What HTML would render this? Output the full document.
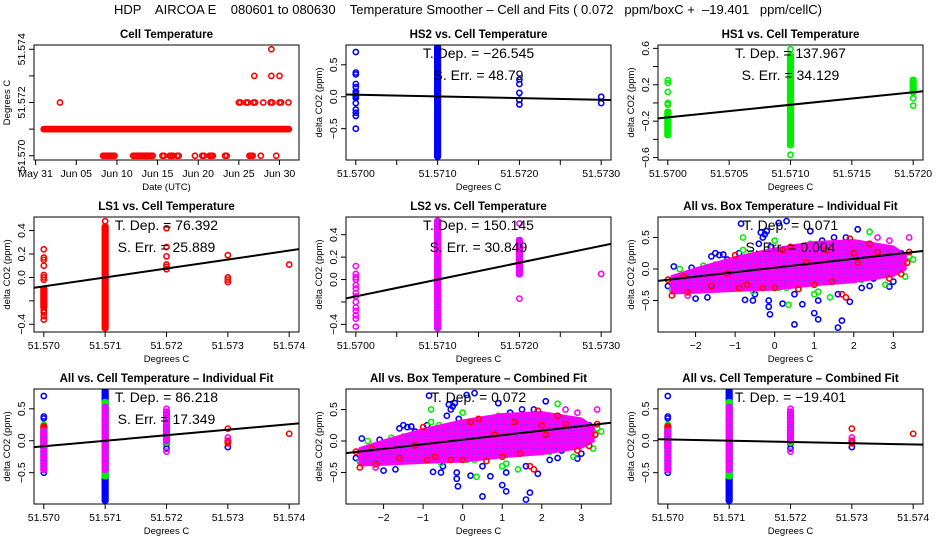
<!DOCTYPE html>
<html><head><meta charset="utf-8"><style>
html,body{margin:0;padding:0;background:#fff;}
svg{display:block;font-family:"Liberation Sans",sans-serif;}
</style></head><body>
<svg id="chart" width="936" height="540" viewBox="0 0 936 540" xmlns="http://www.w3.org/2000/svg">
<defs>
<pattern id="magpat" width="3" height="3" patternUnits="userSpaceOnUse">
<rect width="3" height="3" fill="#ff00ff"/><rect x="1" y="1" width="1" height="1" fill="#5040ff"/>
</pattern>
</defs>
<text x="468" y="14" font-size="13" text-anchor="middle" style="white-space:pre" xml:space="preserve">HDP    AIRCOA E    080601 to 080630    Temperature Smoother – Cell and Fits ( 0.072   ppm/boxC +  –19.401   ppm/cellC)</text>
</svg>
<script>
// ---------- data ----------
const p1Dates = ["May 31","Jun 05","Jun 10","Jun 15","Jun 20","Jun 25","Jun 30"];
const p1DateDays = [0,5,10,15,20,25,30];
const p1Band571 = [1.0, 31.2];
const p1Days570 = [8.3,8.5,8.7,8.9,9.1,9.3,9.5,9.7,12,12.2,12.4,12.6,12.8,13,13.2,13.4,13.6,13.8,14,14.2,14.4,15.6,15.8,16.5,16.7,16.9,17.4,17.6,19.6,20.5,20.7,21.4,21.6,21.8,23.3,23.5,26.3,26.5,26.7,27.7,29.6];
const p1Days572 = [3,25,25.2,25.9,26.1,26.8,27,28,28.9,29.1,30,30.2,31.1];
const p1Days573 = [26.9,29,30];
const p1Days574 = [29];

const hs2StripX = [51.571], hs2StripLo = [-0.93], hs2StripHi = [0.77];
const hs2PtsX = [51.570,51.570,51.570,51.570,51.570,51.570,51.570,51.570,51.570,51.570,51.570,51.570,51.570,51.570,51.570,51.572,51.572,51.572,51.572,51.572,51.573,51.573];
const hs2PtsY = [0.7,0.38,0.35,0.2,0.15,0.08,0.05,0.02,0,-0.02,-0.1,-0.2,-0.25,-0.3,-0.5,0.27,0.2,0.06,-0.05,-0.12,0,-0.1];

const hs1StripX = [51.570,51.571,51.572], hs1StripLo = [-0.35,-0.46,0.12], hs1StripHi = [-0.1,0.52,0.25];
const hs1PtsX = [51.570,51.570,51.570,51.570,51.570,51.571,51.571,51.572,51.572];
const hs1PtsY = [0.25,0.22,0.12,0.0,-0.02,0.59,-0.57,0.05,-0.03];

const ls1StripX = [51.570,51.571], ls1StripLo = [-0.25,-0.43], ls1StripHi = [-0.1,0.43];
const ls1PtsX = [51.570,51.570,51.570,51.570,51.570,51.570,51.570,51.570,51.570,51.570,51.570,51.571,51.572,51.572,51.572,51.572,51.572,51.572,51.573,51.573,51.573,51.573,51.574];
const ls1PtsY = [0.24,0.17,0.15,0.1,0.02,0,-0.02,-0.28,-0.3,-0.33,-0.36,0.48,0.42,0.26,0.18,0.11,0.09,0.07,0.19,0.0,-0.02,-0.04,0.11];

const ls2StripX = [51.571,51.572], ls2StripLo = [-0.43,0.05], ls2StripHi = [0.52,0.35];
const ls2PtsX = [51.570,51.570,51.570,51.570,51.570,51.570,51.570,51.570,51.570,51.570,51.570,51.570,51.570,51.570,51.572,51.572,51.573];
const ls2PtsY = [0.12,0.05,0.02,0,-0.05,-0.08,-0.12,-0.15,-0.2,-0.25,-0.28,-0.32,-0.35,-0.42,0.5,-0.17,0.05];

const boxBlueX = [-2.7,-2.55,-2.0,-1.7,-2.1,-1.6,-1.4,-1.3,-1.2,-0.85,-0.75,-0.55,-0.5,-0.35,-0.3,-0.25,-0.2,-0.15,-0.15,-0.12,-0.1,0.1,0.2,0.3,0.5,0.5,0.7,0.9,1.0,1.1,1.1,1.3,1.5,1.6,1.7,1.6,1.9,1.8,2.1,2.2,2.4,2.6,2.9,3.0,3.2,2.5,-0.9,-0.4,0.6,1.2,-1.5];
const boxBlueY = [-0.27,0.04,-0.47,-0.45,0.02,0.2,0.22,0.23,0.15,0.72,-0.49,-0.5,-0.4,0.58,0.5,0.55,0.6,-0.5,-0.6,-0.72,0.35,0.73,-0.55,0.76,-0.88,-0.4,-0.56,0.6,-0.7,-0.8,-0.5,0.3,0.5,-0.93,-0.82,-0.4,-0.52,0.5,0.63,-0.3,-0.27,-0.05,-0.28,-0.2,0.25,-0.15,0.25,0.4,0.35,0.45,0.25];
const boxGreenX = [-2.6,-2.5,-2.4,-2.2,-1.8,-1.5,-0.8,-0.8,-0.6,-0.55,0.0,0.1,0.3,0.35,0.9,1.0,1.1,1.4,1.5,2.4,2.8,3.3,3.4,3.5,2.2,1.8,-0.3];
const boxGreenY = [-0.33,-0.35,0.0,-0.23,0.05,0.07,0.3,0.5,0.25,-0.35,0.45,-0.3,-0.3,-0.57,0.4,-0.4,-0.36,-0.45,0.3,0.59,-0.25,-0.12,0.2,0.15,-0.17,0.2,-0.3];
const boxRedX = [-2.7,-2.6,-2.3,-2.2,-1.6,-1.2,-1.0,-0.9,-0.7,-0.3,0.0,0.2,0.4,0.6,1.3,1.45,1.7,1.8,1.9,2.1,2.4,2.6,2.9,3.2,3.35,3.4,2.0,0.8,1.0];
const boxRedY = [-0.17,-0.42,-0.12,-0.37,-0.27,-0.07,0.22,-0.3,-0.25,-0.3,-0.3,0.3,0.35,-0.32,0.3,-0.2,-0.4,-0.45,0.48,0.1,0.4,0.27,-0.15,-0.08,0.1,0.27,0.25,0.1,-0.25];
const boxMagX = [2.6,2.9,3.4,-2.2,1.9];
const boxMagY = [0.5,0.45,0.5,-0.42,0.42];
const boxBandX = [-2.6,-2,-1,0,1,2,3,3.3];
const boxBandLo = [-0.38,-0.37,-0.34,-0.32,-0.25,-0.2,-0.1,0.0];
const boxBandHi = [-0.12,0.0,0.18,0.32,0.42,0.45,0.35,0.22];

const fitSlopes = [-26.545,137.967,76.392,150.145,0.071,86.218,0.072,-19.401];
const fitAtRef = [0.005,-0.02,0.0,0.0,0.02,0.0,0.02,0.0];

// ---------- drawing ----------
const svg = document.getElementById('chart');
const NS = 'http://www.w3.org/2000/svg';
const colX = [34,346,658], rowY = [45,217,389], W = 265, H = 115;
function el(tag, attrs, parent){const e=document.createElementNS(NS,tag);for(const k in attrs)e.setAttribute(k,attrs[k]);(parent||svg).appendChild(e);return e;}
function fmt(v,d){return (v<0?'−':'')+Math.abs(v).toFixed(d);}

function makePanel(name,col,row,xd,yd,title,xt,xl,yt,yl,xtitle){
  const g=el('g',{});
  
  
  const x0=colX[col], y0=rowY[row];
  const sx=v=>x0+(v-xd[0])/(xd[1]-xd[0])*W;
  const sy=v=>y0+H-(v-yd[0])/(yd[1]-yd[0])*H;
  const clip=el('clipPath',{id:'clip-'+name},g);
  el('rect',{x:x0,y:y0,width:W,height:H},clip);
  const plot=el('g',{'clip-path':'url(#clip-'+name+')'},g);
  const t=el('text',{x:x0+W/2,y:y0-7,'font-size':11.5,'font-weight':'bold','text-anchor':'middle'},g);
  t.textContent=title;
  
  
  el('rect',{x:x0,y:y0,width:W,height:H,fill:'none',stroke:'#000','stroke-width':1},g);
  const xa=el('g',{},g);
  
  
  xt.forEach((v,i)=>{const X=sx(v);el('line',{x1:X,x2:X,y1:y0+H,y2:y0+H+5,stroke:'#000'},xa);
    if(xl[i]){const tx=el('text',{x:X,y:y0+H+17,'font-size':10.5,'text-anchor':'middle'},xa);tx.textContent=xl[i];
    
    }});
  el('line',{x1:sx(xt[0]),x2:sx(xt[xt.length-1]),y1:y0+H,y2:y0+H,stroke:'#000'},xa);
  const ya=el('g',{},g);
  
  
  yt.forEach((v,i)=>{const Y=sy(v);el('line',{x1:x0-5,x2:x0,y1:Y,y2:Y,stroke:'#000'},ya);
    if(yl[i]){const ty=el('text',{x:x0-9,y:Y,'font-size':10.5,'text-anchor':'middle',transform:'rotate(-90 '+(x0-9)+' '+Y+')'},ya);ty.textContent=yl[i];
    
    }});
  const xtl=el('text',{x:x0+W/2,y:y0+H+30,'font-size':9.5,'text-anchor':'middle'},g);xtl.textContent=xtitle;
  
  
  const yx=x0-24, yy=y0+H/2;
  const ytl=el('text',{x:yx,y:yy,'font-size':9.5,'text-anchor':'middle',transform:'rotate(-90 '+yx+' '+yy+')'},g);
  ytl.textContent=(name==='cell-temperature-panel')?'Degrees C':'delta CO2 (ppm)';
  
  
  return {g,plot,sx,sy,x0,y0};
}
function pt(p,X,Y,c){const e=el('circle',{cx:p.sx(X),cy:p.sy(Y),r:2.6,fill:'none',stroke:c,'stroke-width':1.6},p.plot);
  
  }
function strip(p,X,lo,hi,c){const x=p.sx(X),y1=p.sy(hi),y2=p.sy(lo);
  const e=el('rect',{x:x-3.6,y:y1-3.6,width:7.2,height:y2-y1+7.2,rx:3,fill:c},p.plot);
  
  }
function fit(p,k,ref,xd){const f=v=>fitAtRef[k]+fitSlopes[k]*(v-ref);
  const e=el('line',{x1:p.sx(xd[0]),y1:p.sy(f(xd[0])),x2:p.sx(xd[1]),y2:p.sy(f(xd[1])),stroke:'#000','stroke-width':2},p.plot);
  
  }
function note(p,lines){lines.forEach((s,i)=>{const t=el('text',{x:p.x0+W/2,y:p.y0+13+i*22,'font-size':14,'text-anchor':'middle'},p.g);t.textContent=s;
  
  });}

{const xd=[-0.2,32.4],yd=[51.56984,51.57416];
 const p=makePanel('cell-temperature-panel',0,0,xd,yd,'Cell Temperature',p1DateDays,p1Dates,[51.570,51.571,51.572,51.573,51.574],['51.570','','51.572','','51.574'],'Date (UTC)');
 for(let d=p1Band571[0];d<=p1Band571[1];d+=0.15)pt(p,d,51.571,'#ff0000');
 p1Days570.forEach(d=>pt(p,d,51.570,'#ff0000'));
 p1Days572.forEach(d=>pt(p,d,51.572,'#ff0000'));
 p1Days573.forEach(d=>pt(p,d,51.573,'#ff0000'));
 p1Days574.forEach(d=>pt(p,d,51.574,'#ff0000'));}

const xt3=[51.570,51.5705,51.571,51.5715,51.572,51.5725,51.573];
const xl3=['51.5700','','51.5710','','51.5720','','51.5730'];
const xt4=[51.570,51.571,51.572,51.573,51.574];
const xl4=['51.570','51.571','51.572','51.573','51.574'];
const ytA=[-0.5,0,0.5], ylA=['−0.5','0.0','0.5'];

{const xd=[51.56988,51.57312],yd=[-0.99,0.81];
 const p=makePanel('hs2-panel',1,0,xd,yd,'HS2 vs. Cell Temperature',xt3,xl3,ytA,ylA,'Degrees C');
 hs2StripX.forEach((x,i)=>strip(p,x,hs2StripLo[i],hs2StripHi[i],'#0000ff'));
 hs2PtsX.forEach((x,i)=>pt(p,x,hs2PtsY[i],'#0000ff'));
 fit(p,0,51.571,xd); note(p,['T. Dep. =  '+fmt(fitSlopes[0],3),'S. Err. =  48.79']);}

{const xd=[51.56992,51.57208],yd=[-0.627,0.637];
 const p=makePanel('hs1-panel',2,0,xd,yd,'HS1 vs. Cell Temperature',[51.570,51.5705,51.571,51.5715,51.572],['51.5700','51.5705','51.5710','51.5715','51.5720'],[-0.6,-0.4,-0.2,0,0.2,0.4,0.6],['−0.6','','−0.2','','0.2','','0.6'],'Degrees C');
 hs1StripX.forEach((x,i)=>strip(p,x,hs1StripLo[i],hs1StripHi[i],'#00ee00'));
 hs1PtsX.forEach((x,i)=>pt(p,x,hs1PtsY[i],'#00ee00'));
 fit(p,1,51.571,xd); note(p,['T. Dep. =  '+fmt(fitSlopes[1],3),'S. Err. =  34.129']);}

{const xd=[51.56984,51.57416],yd=[-0.466,0.516];
 const p=makePanel('ls1-panel',0,1,xd,yd,'LS1 vs. Cell Temperature',xt4,xl4,[-0.4,-0.2,0,0.2,0.4],['−0.4','','0.0','0.2','0.4'],'Degrees C');
 ls1StripX.forEach((x,i)=>strip(p,x,ls1StripLo[i],ls1StripHi[i],'#ff0000'));
 ls1PtsX.forEach((x,i)=>pt(p,x,ls1PtsY[i],'#ff0000'));
 fit(p,2,51.571,xd); note(p,['T. Dep. =  '+fmt(fitSlopes[2],3),'S. Err. =  25.889']);}

{const xd=[51.56988,51.57312],yd=[-0.468,0.558];
 const p=makePanel('ls2-panel',1,1,xd,yd,'LS2 vs. Cell Temperature',xt3,xl3,[-0.4,-0.2,0,0.2,0.4],['−0.4','','0.0','0.2','0.4'],'Degrees C');
 ls2StripX.forEach((x,i)=>strip(p,x,ls2StripLo[i],ls2StripHi[i],'url(#magpat)'));
 ls2PtsX.forEach((x,i)=>pt(p,x,ls2PtsY[i],'#ff00ff'));
 fit(p,3,51.571,xd); note(p,['T. Dep. =  '+fmt(fitSlopes[3],3),'S. Err. =  30.849']);}

function boxScatter(p){
 boxBlueX.forEach((x,i)=>pt(p,x,boxBlueY[i],'#0000ff'));
 boxGreenX.forEach((x,i)=>pt(p,x,boxGreenY[i],'#00ee00'));
 const pts=boxBandX.map((x,i)=>p.sx(x)+','+p.sy(boxBandHi[i])).concat(boxBandX.map((x,i)=>p.sx(x)+','+p.sy(boxBandLo[i])).reverse());
 const band=el('polygon',{points:pts.join(' '),fill:'url(#magpat)',stroke:'#ff00ff','stroke-width':3,'stroke-linejoin':'round'},p.plot);
 
 
 boxRedX.forEach((x,i)=>pt(p,x,boxRedY[i],'#ff0000'));
 boxMagX.forEach((x,i)=>pt(p,x,boxMagY[i],'#ff00ff'));
}
function cellAll(p){
 strip(p,51.571,-0.93,0.77,'#0000ff');
 hs2PtsX.forEach((x,i)=>pt(p,x,hs2PtsY[i],'#0000ff'));
 strip(p,51.571,-0.55,0.6,'#00ee00');
 hs1PtsX.forEach((x,i)=>{if(x!==51.571)pt(p,x,hs1PtsY[i],'#00ee00');});
 strip(p,51.570,-0.1,0.22,'#ff0000');
 ls1PtsX.forEach((x,i)=>{if(x>51.5715)pt(p,x,ls1PtsY[i],'#ff0000');});
 strip(p,51.570,-0.45,0.15,'url(#magpat)');
 strip(p,51.571,-0.45,0.52,'url(#magpat)');
 strip(p,51.572,0.0,0.45,'url(#magpat)');
 ls2PtsX.forEach((x,i)=>{if(x>51.5715)pt(p,x,ls2PtsY[i],'#ff00ff');});
}
const xtB=[-2,-1,0,1,2,3], xlB=['−2','−1','0','1','2','3'];
{const xd=[-2.95,3.75],yd=[-1.0,0.825];
 const p=makePanel('box-individual-panel',2,1,xd,yd,'All vs. Box Temperature – Individual Fit',xtB,xlB,ytA,ylA,'Degrees C');
 boxScatter(p); fit(p,4,0,xd); note(p,['T. Dep. =  '+fitSlopes[4].toFixed(3),'S. Err. =  0.004']);}
{const xd=[51.56984,51.57416],yd=[-0.99,0.81];
 const p=makePanel('cell-individual-panel',0,2,xd,yd,'All vs. Cell Temperature – Individual Fit',xt4,xl4,ytA,ylA,'Degrees C');
 cellAll(p); fit(p,5,51.571,xd); note(p,['T. Dep. =  '+fmt(fitSlopes[5],3),'S. Err. =  17.349']);}
{const xd=[-2.95,3.75],yd=[-1.0,0.825];
 const p=makePanel('box-combined-panel',1,2,xd,yd,'All vs. Box Temperature – Combined Fit',xtB,xlB,ytA,ylA,'Degrees C');
 boxScatter(p); fit(p,6,0,xd); note(p,['T. Dep. =  '+fitSlopes[6].toFixed(3)]);}
{const xd=[51.56984,51.57416],yd=[-0.99,0.81];
 const p=makePanel('cell-combined-panel',2,2,xd,yd,'All vs. Cell Temperature – Combined Fit',xt4,xl4,ytA,ylA,'Degrees C');
 cellAll(p); fit(p,7,51.571,xd); note(p,['T. Dep. =  '+fmt(fitSlopes[7],3)]);}
</script>
</body></html>
